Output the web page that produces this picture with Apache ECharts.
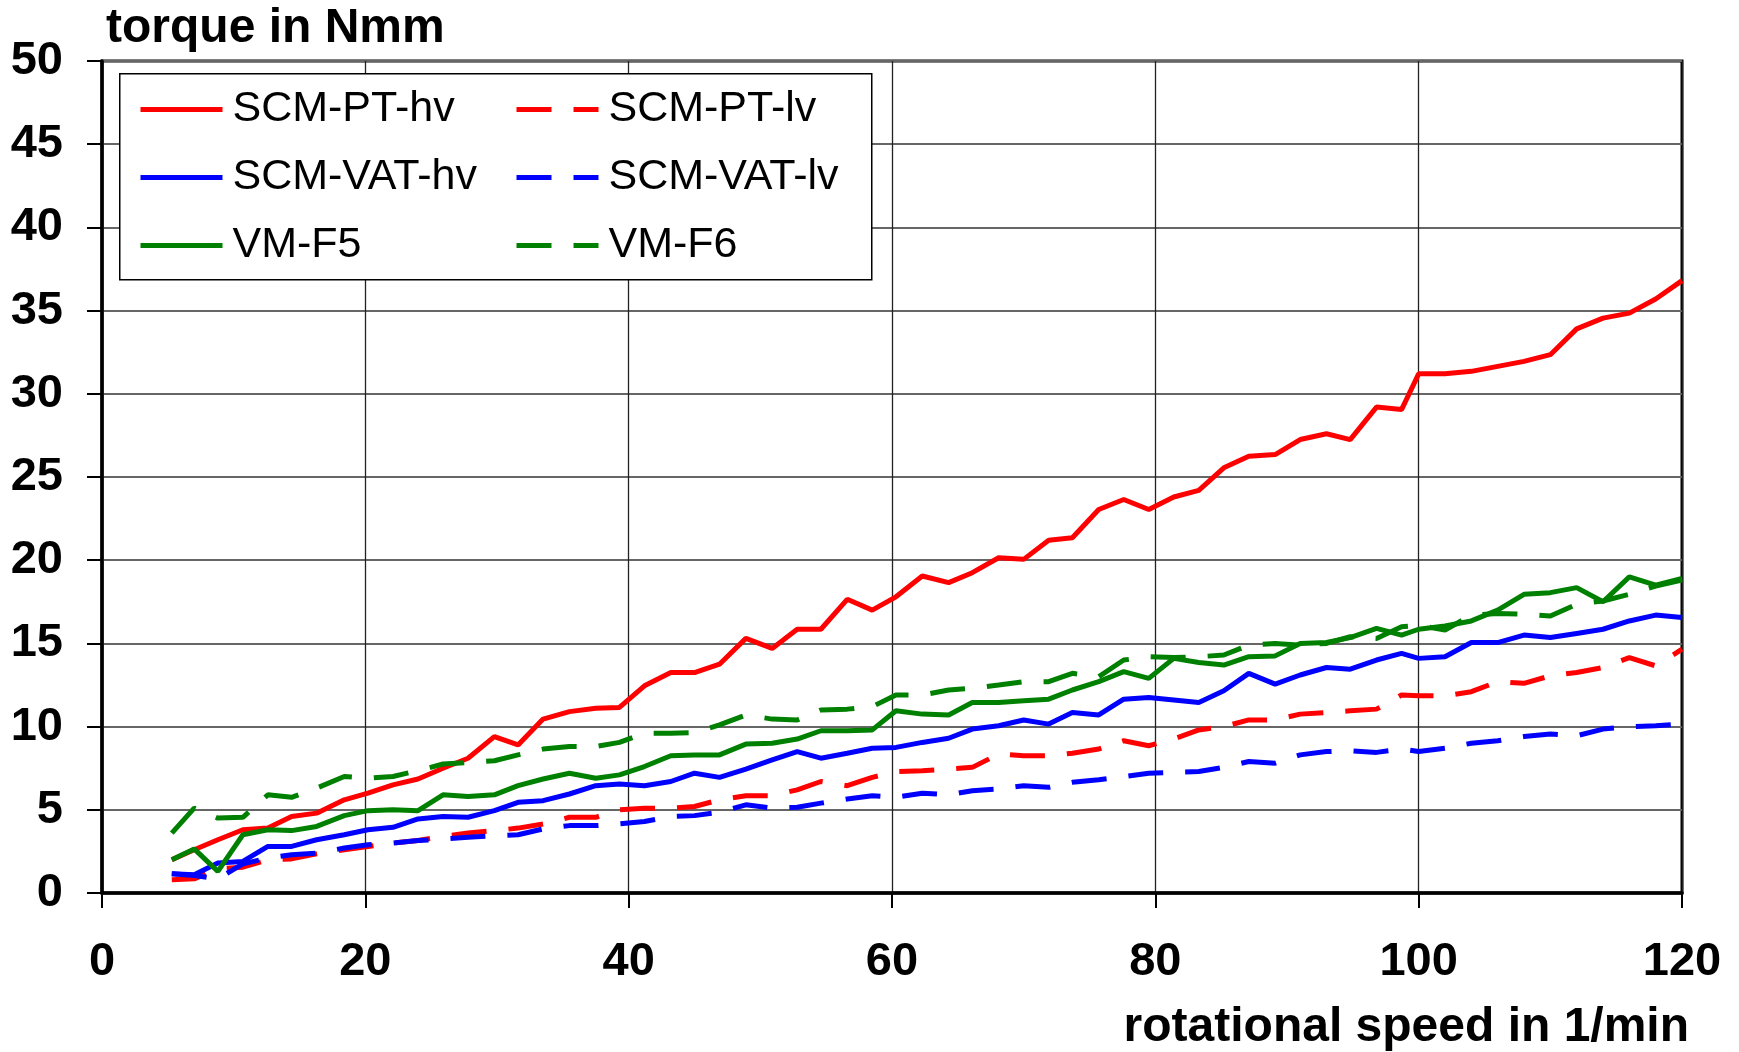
<!DOCTYPE html>
<html>
<head>
<meta charset="utf-8">
<title>torque vs rotational speed</title>
<script src="https://cdn.jsdelivr.net/npm/echarts@6/dist/echarts.min.js"></script>
<style>
  html, body { margin: 0; padding: 0; background: #fff; }
  #chart { width: 1739px; height: 1052px; }
</style>
</head>
<body>
<div id="chart"></div>
<script>
// rotational speed in 1/min (shared x values)
var speed = [5.3, 7.0, 8.8, 10.7, 12.6, 14.4, 16.3, 18.4, 20.2, 22.1,
  24.0, 25.9, 27.8, 29.8, 31.6, 33.5, 35.5, 37.5, 39.3, 41.2,
  43.2, 45.0, 46.9, 48.9, 50.9, 52.8, 54.6, 56.6, 58.5, 60.3,
  62.3, 64.3, 66.1, 68.1, 70.0, 71.9, 73.7, 75.7, 77.6, 79.5,
  81.4, 83.3, 85.2, 87.1, 89.1, 91.0, 93.0, 94.8, 96.8, 98.7,
  100.0, 102.0, 104.0, 106.0, 108.0, 110.0, 112.0, 114.0, 116.0, 118.0, 120.0];

// torque in Nmm
var ptHv = [2.0, 2.6, 3.2, 3.8, 3.9, 4.6, 4.8, 5.6, 6.0, 6.5,
  6.85, 7.5, 8.1, 9.4, 8.9, 10.45, 10.9, 11.1, 11.15, 12.45,
  13.25, 13.25, 13.75, 15.3, 14.7, 15.85, 15.85, 17.65, 17.0, 17.8,
  19.05, 18.65, 19.25, 20.15, 20.05, 21.2, 21.35, 23.05, 23.65, 23.05,
  23.8, 24.2, 25.55, 26.25, 26.35, 27.25, 27.6, 27.25, 29.2, 29.05,
  31.2, 31.2, 31.35, 31.65, 31.95, 32.35, 33.9, 34.55, 34.85, 35.7, 36.8];

var ptLv = [0.8, 0.85, 1.45, 1.55, 2.0, 2.05, 2.35, 2.6, 2.8, 3.0,
  3.15, 3.4, 3.6, 3.75, 3.9, 4.15, 4.55, 4.55, 5.0, 5.1,
  5.1, 5.2, 5.6, 5.85, 5.85, 6.2, 6.7, 6.45, 6.95, 7.3,
  7.35, 7.45, 7.55, 8.35, 8.25, 8.25, 8.4, 8.65, 9.15, 8.85,
  9.25, 9.8, 10.0, 10.4, 10.4, 10.75, 10.85, 10.95, 11.05, 11.9,
  11.85, 11.85, 12.1, 12.7, 12.6, 13.05, 13.25, 13.55, 14.15, 13.65, 14.65];

var vatHv = [1.15, 1.1, 1.8, 1.9, 2.8, 2.8, 3.2, 3.5, 3.8, 3.95,
  4.45, 4.6, 4.55, 4.95, 5.45, 5.55, 5.95, 6.45, 6.55, 6.45,
  6.7, 7.2, 6.95, 7.45, 8.0, 8.5, 8.1, 8.4, 8.7, 8.75,
  9.05, 9.3, 9.85, 10.05, 10.4, 10.15, 10.85, 10.7, 11.65, 11.75,
  11.6, 11.45, 12.15, 13.2, 12.55, 13.1, 13.55, 13.45, 14.0, 14.4,
  14.1, 14.2, 15.05, 15.05, 15.5, 15.35, 15.6, 15.85, 16.35, 16.7, 16.55];

var vatLv = [1.15, 1.05, 0.85, 1.75, 2.1, 2.3, 2.4, 2.7, 2.9, 3.0,
  3.15, 3.25, 3.35, 3.45, 3.5, 3.85, 4.05, 4.05, 4.15, 4.3,
  4.6, 4.65, 4.85, 5.3, 5.1, 5.15, 5.4, 5.65, 5.85, 5.75,
  6.0, 5.9, 6.15, 6.25, 6.45, 6.35, 6.65, 6.8, 7.0, 7.2,
  7.25, 7.3, 7.55, 7.9, 7.8, 8.3, 8.5, 8.55, 8.45, 8.65,
  8.5, 8.7, 9.0, 9.15, 9.4, 9.55, 9.45, 9.85, 10.0, 10.05, 10.15];

var vmF5 = [2.0, 2.65, 1.3, 3.5, 3.8, 3.75, 4.0, 4.65, 4.95, 5.0,
  4.95, 5.9, 5.8, 5.9, 6.45, 6.85, 7.2, 6.9, 7.1, 7.6,
  8.25, 8.3, 8.3, 8.95, 9.0, 9.25, 9.75, 9.75, 9.8, 10.95,
  10.75, 10.7, 11.45, 11.45, 11.55, 11.65, 12.2, 12.7, 13.3, 12.9,
  14.1, 13.85, 13.7, 14.2, 14.25, 15.0, 15.05, 15.35, 15.9, 15.5,
  15.85, 16.05, 16.35, 17.0, 17.95, 18.05, 18.35, 17.5, 19.0, 18.5, 18.9];

var vmF6 = [3.6, 5.1, 4.5, 4.55, 5.9, 5.75, 6.3, 7.0, 6.9, 7.0,
  7.35, 7.75, 7.85, 7.95, 8.3, 8.65, 8.8, 8.8, 9.05, 9.6,
  9.6, 9.65, 10.1, 10.7, 10.45, 10.4, 11.0, 11.05, 11.2, 11.9,
  11.9, 12.2, 12.3, 12.5, 12.7, 12.7, 13.2, 13.0, 14.0, 14.2,
  14.15, 14.2, 14.3, 14.9, 15.0, 14.9, 15.0, 15.4, 15.3, 16.0,
  16.1, 15.8, 16.7, 16.8, 16.75, 16.65, 17.35, 17.55, 17.95, 18.45, 18.8];

var font = "'Liberation Sans', Arial, Helvetica, sans-serif";
var dash = [35, 22];
var lw = 5;

function pairs(vals) {
  return speed.map(function (s, i) { return [s, vals[i]]; });
}

function line(name, vals, color, dashed) {
  return {
    name: name,
    type: 'line',
    data: pairs(vals),
    symbol: 'none',
    animation: false,
    itemStyle: { color: color },
    lineStyle: { color: color, width: lw, type: dashed ? dash : 'solid' }
  };
}

var myChart = echarts.init(document.getElementById('chart'));

// two legend columns, one box drawn behind them
var legendBase = {
  orient: 'vertical',
  top: 88,
  padding: 0,
  itemWidth: 82,
  itemHeight: 20,
  itemGap: 25,
  selectedMode: false,
  z: 5,
  itemStyle: { opacity: 0 },
  lineStyle: { width: lw },
  textStyle: { fontFamily: font, fontSize: 43, lineHeight: 42, color: '#000', padding: [0, 0, 0, 5] }
};

var option = {
  backgroundColor: '#fff',
  animation: false,
  grid: {
    left: 102, right: 57, top: 61, bottom: 159,
    show: true, borderColor: '#000', borderWidth: 3
  },
  graphic: [{
    type: 'rect',
    left: 119, top: 73, z: 3,
    shape: { width: 752, height: 206 },
    style: { fill: '#fff', stroke: '#000', lineWidth: 1.5 }
  }],
  legend: [
    Object.assign({}, legendBase, { left: 138, data: ['SCM-PT-hv', 'SCM-VAT-hv', 'VM-F5'] }),
    Object.assign({}, legendBase, { left: 514, data: ['SCM-PT-lv', 'SCM-VAT-lv', 'VM-F6'] })
  ],
  xAxis: {
    type: 'value',
    min: 0, max: 120, interval: 20,
    name: 'rotational speed in 1/min',
    nameLocation: 'end',
    nameGap: 7,
    nameTextStyle: { fontFamily: font, fontSize: 48, fontWeight: 'bold', color: '#000',
      align: 'right', verticalAlign: 'top', padding: [111, 0, 0, 0] },
    axisLine: { show: true, lineStyle: { color: '#000', width: 3.5 } },
    axisTick: { show: true, length: 15, lineStyle: { color: '#000', width: 2 } },
    axisLabel: { fontFamily: font, fontSize: 47, fontWeight: 'bold', color: '#000', margin: 46 },
    splitLine: { show: true, lineStyle: { color: '#222', width: 1.3 } }
  },
  yAxis: {
    type: 'value',
    min: 0, max: 50, interval: 5,
    name: 'torque in Nmm',
    nameLocation: 'end',
    nameGap: 8,
    nameTextStyle: { fontFamily: font, fontSize: 48, fontWeight: 'bold', color: '#000',
      align: 'left', verticalAlign: 'bottom', padding: [0, 0, 0, 4] },
    axisLine: { show: true, lineStyle: { color: '#000', width: 3.5 } },
    axisTick: { show: true, length: 15, lineStyle: { color: '#000', width: 2 } },
    axisLabel: { fontFamily: font, fontSize: 47, fontWeight: 'bold', color: '#000', margin: 39 },
    splitLine: { show: true, lineStyle: { color: '#666', width: 2 } }
  },
  series: [
    line('SCM-PT-hv', ptHv, '#ff0000', false),
    line('SCM-PT-lv', ptLv, '#ff0000', true),
    line('SCM-VAT-hv', vatHv, '#0000ff', false),
    line('SCM-VAT-lv', vatLv, '#0000ff', true),
    line('VM-F5', vmF5, '#008000', false),
    line('VM-F6', vmF6, '#008000', true)
  ]
};

myChart.setOption(option);
</script>
</body>
</html>
